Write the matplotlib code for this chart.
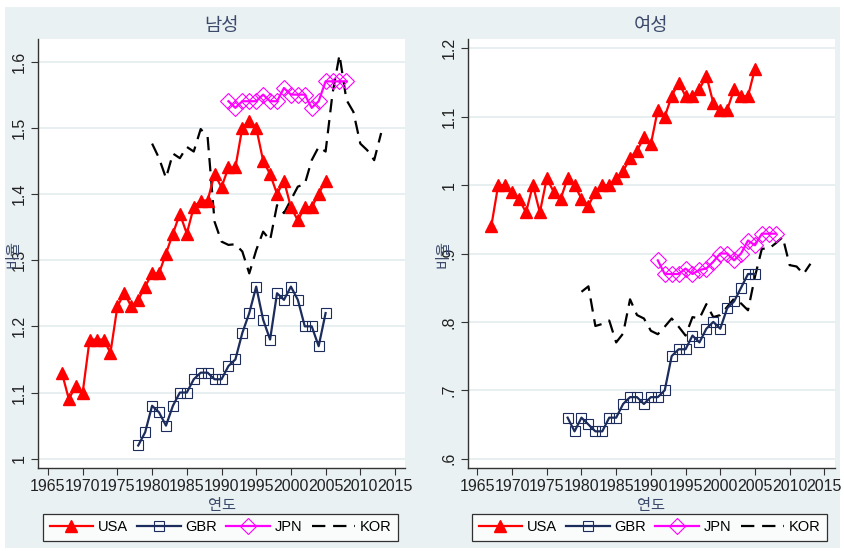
import matplotlib
matplotlib.use("Agg")
import matplotlib.pyplot as plt
from matplotlib.lines import Line2D
from matplotlib.patches import Rectangle

plt.rcParams['font.family'] = ['Liberation Sans', 'Noto Sans CJK KR', 'DejaVu Sans']

# ---------------- data ----------------
usa_m_years = list(range(1967, 2006))
usa_m = [1.13, 1.09, 1.11, 1.10, 1.18, 1.18, 1.18, 1.16, 1.23, 1.25,
         1.23, 1.24, 1.26, 1.28, 1.28, 1.31, 1.34, 1.37, 1.34, 1.38,
         1.39, 1.39, 1.43, 1.41, 1.44, 1.44, 1.50, 1.51, 1.50, 1.45,
         1.43, 1.40, 1.42, 1.38, 1.36, 1.38, 1.38, 1.40, 1.42]
gbr_m_years = list(range(1978, 2006))
gbr_m = [1.02, 1.04, 1.08, 1.07, 1.05, 1.08, 1.10, 1.10, 1.12, 1.13,
         1.13, 1.12, 1.12, 1.14, 1.15, 1.19, 1.22, 1.26, 1.21, 1.18,
         1.25, 1.24, 1.26, 1.24, 1.20, 1.20, 1.17, 1.22]
jpn_m_years = list(range(1991, 2009))
jpn_m = [1.54, 1.53, 1.54, 1.54, 1.54, 1.55, 1.54, 1.54, 1.56, 1.55,
         1.55, 1.55, 1.53, 1.54, 1.57, 1.57, 1.57, 1.57]
kor_m_years = list(range(1980, 2014))
kor_m = [1.476, 1.454, 1.424, 1.461, 1.454, 1.471, 1.464, 1.498, 1.486, 1.358,
         1.328, 1.323, 1.324, 1.313, 1.280, 1.315, 1.343, 1.330, 1.383, 1.371,
         1.391, 1.411, 1.415, 1.451, 1.471, 1.464, 1.552, 1.610, 1.542, 1.524,
         1.476, 1.466, 1.451, 1.492]

usa_f_years = list(range(1967, 2006))
usa_f = [0.94, 1.00, 1.00, 0.99, 0.98, 0.96, 1.00, 0.96, 1.01, 0.99,
         0.98, 1.01, 1.00, 0.98, 0.97, 0.99, 1.00, 1.00, 1.01, 1.02,
         1.04, 1.05, 1.07, 1.06, 1.11, 1.10, 1.13, 1.15, 1.13, 1.13,
         1.14, 1.16, 1.12, 1.11, 1.11, 1.14, 1.13, 1.13, 1.17]
gbr_f_years = list(range(1978, 2006))
gbr_f = [0.66, 0.64, 0.66, 0.65, 0.64, 0.64, 0.66, 0.66, 0.68, 0.69,
         0.69, 0.68, 0.69, 0.69, 0.70, 0.75, 0.76, 0.76, 0.78, 0.77,
         0.79, 0.80, 0.79, 0.82, 0.83, 0.85, 0.87, 0.87]
jpn_f_years = list(range(1991, 2009))
jpn_f = [0.89, 0.87, 0.87, 0.87, 0.878, 0.87, 0.876, 0.878, 0.888, 0.90,
         0.90, 0.89, 0.90, 0.919, 0.912, 0.929, 0.929, 0.929]
kor_f_years = list(range(1980, 2014))
kor_f = [0.844, 0.852, 0.794, 0.797, 0.802, 0.770, 0.783, 0.833, 0.810, 0.805,
         0.787, 0.782, 0.793, 0.805, 0.793, 0.780, 0.807, 0.805, 0.826, 0.807,
         0.810, 0.822, 0.834, 0.827, 0.817, 0.866, 0.907, 0.907, 0.915, 0.924,
         0.883, 0.881, 0.870, 0.885]

titles = ['남성', '여성']
x_ticks = list(range(1965, 2016, 5))
y_ticks_m = [1.0, 1.1, 1.2, 1.3, 1.4, 1.5, 1.6]
y_labels_m = ['1', '1.1', '1.2', '1.3', '1.4', '1.5', '1.6']
y_ticks_f = [0.6, 0.7, 0.8, 0.9, 1.0, 1.1, 1.2]
y_labels_f = ['.6', '.7', '.8', '.9', '1', '1.1', '1.2']
series_names = ['USA', 'GBR', 'JPN', 'KOR']

# ---------------- style ----------------
BG = '#eaf1f3'
RED = '#ff0000'
NAVY = '#1c2c5c'
MAG = '#ff00ff'
TXT = '#3b4a6b'

W, H = 844, 551
fig = plt.figure(figsize=(W / 100, H / 100), dpi=100, facecolor='white')
fig.patches.append(Rectangle((5 / W, 1 - 548 / H), 835 / W, 541 / H,
                             transform=fig.transFigure, facecolor=BG,
                             edgecolor='none', zorder=-10))

def px_axes(x0, y0, x1, y1):
    return fig.add_axes([x0 / W, 1 - y1 / H, (x1 - x0) / W, (y1 - y0) / H])

ax_m = px_axes(38, 39, 405, 468)
ax_f = px_axes(467.7, 39, 835, 468)

panels = [
    (ax_m, usa_m_years, usa_m, gbr_m_years, gbr_m, jpn_m_years, jpn_m,
     kor_m_years, kor_m, y_ticks_m, y_labels_m, (0.986, 1.634), (1963.56, 2016.44)),
    (ax_f, usa_f_years, usa_f, gbr_f_years, gbr_f, jpn_f_years, jpn_f,
     kor_f_years, kor_f, y_ticks_f, y_labels_f, (0.5864, 1.2136), (1963.6, 2016.54)),
]

for i, (ax, uy, uv, gy, gv, jy, jv, ky, kv, yt, yl, ylim, xlim) in enumerate(panels):
    ax.set_facecolor('white')
    ax.plot(ky, kv, color='black', lw=1.6, dashes=(6, 3.5), zorder=2)
    ax.plot(uy, uv, color=RED, lw=1.6, marker='^', ms=9, mfc=RED, mec=RED, zorder=3)
    ax.plot(gy, gv, color=NAVY, lw=1.6, marker='s', ms=7.5, mfc='none', mec=NAVY,
            mew=0.8, zorder=3)
    ax.plot(jy, jv, color=MAG, lw=1.6, marker='D', ms=8, mfc='none', mec=MAG,
            mew=0.8, zorder=4)
    ax.set_xlim(*xlim)
    ax.set_ylim(*ylim)
    ax.set_xticks(x_ticks)
    ax.set_xticklabels([str(t) for t in x_ticks], fontsize=11.5, color='#222222')
    ax.set_yticks(yt)
    ax.set_yticklabels(yl, fontsize=11.5, color='#222222', rotation=90, va='center')
    ax.grid(axis='y', color='#e6eef0', lw=1.3)
    ax.set_axisbelow(True)
    for s in ['top', 'right']:
        ax.spines[s].set_visible(False)
    for s in ['left', 'bottom']:
        ax.spines[s].set_color('#333333')
        ax.spines[s].set_linewidth(1.0)
    ax.tick_params(direction='out', length=5, width=0.8, color='#333333', pad=3)
    ax.set_title(titles[i], fontsize=13.5, color=TXT, pad=6)
    ax.set_xlabel('연도', fontsize=11, color=TXT)
    ax.xaxis.set_label_coords(0.5, -0.072)
    ax.set_ylabel('비율', fontsize=11, color=TXT)
    ax.yaxis.set_label_coords(-0.047, 0.5)

    handles = [
        Line2D([], [], color=RED, lw=1.6, marker='^', ms=9, mfc=RED, mec=RED),
        Line2D([], [], color=NAVY, lw=1.6, marker='s', ms=7.5, mfc='none', mec=NAVY, mew=0.8),
        Line2D([], [], color=MAG, lw=1.6, marker='D', ms=8, mfc='none', mec=MAG, mew=0.8),
        Line2D([], [], color='black', lw=1.6, dashes=(6, 3.5)),
    ]
    lx0 = 43 if i == 0 else 472
    leg = fig.legend(handles, series_names, ncol=4, loc='lower left',
                     bbox_to_anchor=(lx0 / W, 1 - 541 / H, 355 / W, 27 / H),
                     mode='expand', frameon=True, fancybox=False, fontsize=10.5,
                     handlelength=3.0, handletextpad=0.3, columnspacing=0.8,
                     borderpad=0.45, borderaxespad=0)
    leg.get_frame().set_edgecolor('black')
    leg.get_frame().set_linewidth(0.9)
    leg.get_frame().set_facecolor('white')

fig.savefig('out.png', dpi=100, facecolor=fig.get_facecolor())
